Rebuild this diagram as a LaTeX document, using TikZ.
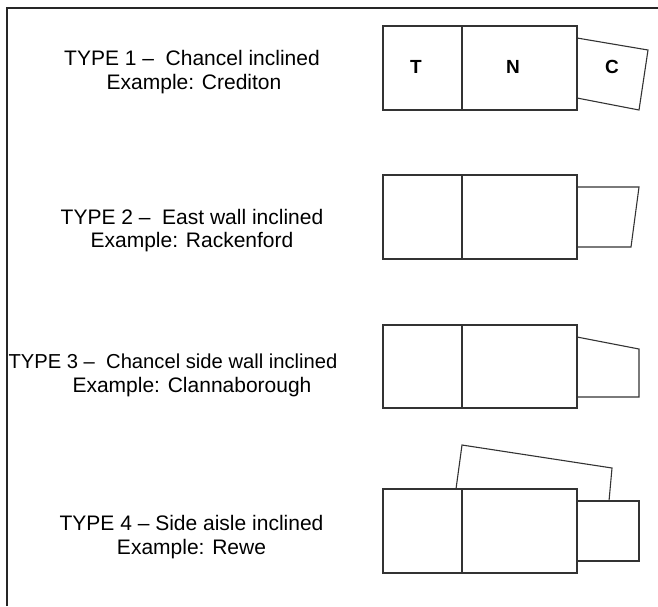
\documentclass[tikz,border=0pt]{standalone}
\usepackage{fontspec}
\setmainfont{Liberation Sans}
\begin{document}
\begin{tikzpicture}[x=1pt,y=-1pt,
  wall/.style={draw=black!80,line width=1.1pt,line join=miter},
  frame/.style={draw=black!85,line width=1.8pt},
  txt/.style={anchor=base,inner sep=0pt,font=\fontsize{21}{24}\selectfont},
  lab/.style={anchor=center,inner sep=0pt,font=\fontsize{19}{21}\selectfont\bfseries}]
\useasboundingbox (0,0) rectangle (658,606);
\fill[white] (0,0) rectangle (658,606);
% frame
\coordinate (fbl) at (7,606);
\coordinate (ftl) at (7,8);
\coordinate (ftr) at (658,8);
\draw[frame] (fbl) -- (ftl) -- (ftr);

% TYPE 1
\node[txt] (t1a) at (192,65) {TYPE 1 –\ \ Chancel inclined};
\node[txt] (t1b) at (194,89) {Example: Crediton};
\draw[wall] (383,26) rectangle (577,110);
\draw[wall] (462,26) -- (462,110);
\draw[wall] (577,38) -- (648,50) -- (639,110) -- (577,98);
\node[lab] (T) at (416,67) {T};
\node[lab] (N) at (513,67) {N};
\node[lab] (C) at (612,67) {C};

% TYPE 2
\node[txt] (t2a) at (192,224) {TYPE 2 –\ \ East wall inclined};
\node[txt] (t2b) at (192,247) {Example: Rackenford};
\draw[wall] (383,175) rectangle (577,259);
\draw[wall] (462,175) -- (462,259);
\draw[wall] (577,187) -- (639,187) -- (631,247) -- (577,247);

% TYPE 3
\node[txt,font=\fontsize{20.2}{24}\selectfont] (t3a) at (173,368) {TYPE 3 –\ \ Chancel side wall inclined};
\node[txt] (t3b) at (192,392) {Example: Clannaborough};
\draw[wall] (383,325) rectangle (577,408);
\draw[wall] (462,325) -- (462,408);
\draw[wall] (577,337) -- (639,349) -- (639,397) -- (577,397);

% TYPE 4
\node[txt] (t4a) at (191.5,530) {TYPE 4 – Side aisle inclined};
\node[txt] (t4b) at (191.5,554) {Example: Rewe};
\draw[wall] (383,489) rectangle (577,573);
\draw[wall] (462,489) -- (462,573);
\draw[wall] (577,501) -- (639,501) -- (639,561) -- (577,561);
\draw[wall] (456,489) -- (462,445) -- (612,468) -- (609,501);
\end{tikzpicture}
\end{document}
